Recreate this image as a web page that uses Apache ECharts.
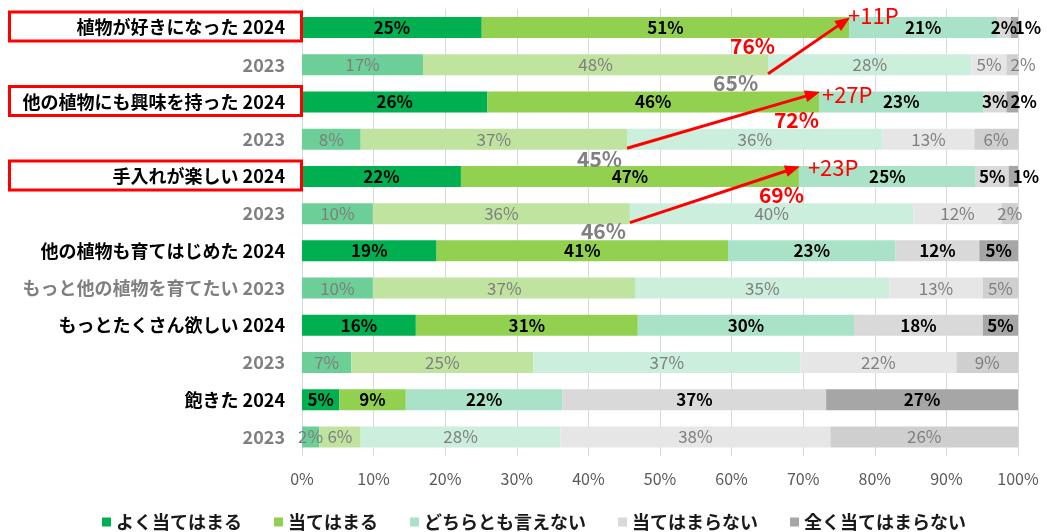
<!DOCTYPE html>
<html><head><meta charset="utf-8">
<script src="https://cdn.jsdelivr.net/npm/echarts@6/dist/echarts.min.js"></script>
<style>html,body{margin:0;padding:0;background:#fff}#c{width:1047px;height:532px}</style>
</head><body><div id="c"></div>
<script>
// ---- data ----
const itemNames = ['植物が好きになった','','他の植物にも興味を持った','','手入れが楽しい','','他の植物も育てはじめた','もっと他の植物を育てたい','もっとたくさん欲しい','','飽きた',''];
const years = ['2024','2023','2024','2023','2024','2023','2024','2023','2024','2023','2024','2023'];
const seriesNames = ['よく当てはまる','当てはまる','どちらとも言えない','当てはまらない','全く当てはまらない'];
const veryTrue     = [25.1,16.9,25.9, 8.2,22.2, 9.9,18.8, 9.9,15.9, 6.9, 5.2, 2.4];
const somewhatTrue = [51.3,48.2,46.3,37.2,47.2,35.9,40.7,36.7,31.0,25.4, 9.3, 5.8];
const neutral      = [20.7,28.4,23.0,35.7,24.7,39.6,23.4,35.4,30.2,37.3,21.9,27.9];
const notTrue      = [ 1.9, 4.9, 3.2,12.8, 4.6,12.3,11.7,13.1,18.0,21.8,36.8,37.7];
const notAtAll     = [ 1.0, 1.6, 1.6, 6.1, 1.3, 2.3, 5.4, 4.9, 4.9, 8.6,26.8,26.2];
const xMin = 0, xMax = 100, xStep = 10;
// comparison annotations: [2024 row, 2023 row]
const comparePairs = [[0,1],[2,3],[4,5]];
const boxedRows = [0,2,4];

// ---- styles ----
const FONT = '"Noto Sans CJK JP", "Noto Sans", sans-serif';
const colors2024 = ['#00B050','#92D050','#A9E2C6','#D9D9D9','#A6A6A6'];
const colors2023 = ['#6CCF97','#C0E4A0','#CCEEDD','#E6E6E6','#CFCFCF'];
const RED = '#FF0000';
const leftLabelCells = {4:[0,1,2,4]}; // series index -> rows with left-placed label
const annLayout = [
  {diffDx:-1, diffDy:-11.5, totDx:-74, totDy:18.5, oldDx:-10, oldDy:18},
  {diffDx: 3, diffDy:-7.7,  totDx:  0, totDy:18,   oldDx:-5,  oldDy:20},
  {diffDx: 9, diffDy:-9.2,  totDx:  5, totDy:19,   oldDx:-4,  oldDy:17}
];

const categories = itemNames.map((n,i)=> (n ? n + ' ' : '') + years[i]);
const allSeries = [veryTrue, somewhatTrue, neutral, notTrue, notAtAll];

const chart = echarts.init(document.getElementById('c'), null, {renderer:'canvas'});

const series = allSeries.map((arr, si) => ({
  name: seriesNames[si],
  type: 'bar',
  stack: 'total',
  barWidth: 21,
  itemStyle: {color: colors2024[si]},
  label: {show: true, position: 'inside', fontSize: 17, fontFamily: FONT,
          formatter: p => Math.round(p.value) + '%'},
  data: arr.map((v, ri) => {
    const is23 = years[ri] === '2023';
    const d = {
      value: v,
      itemStyle: {color: is23 ? colors2023[si] : colors2024[si]},
      label: {color: is23 ? '#7F7F7F' : '#000000', fontWeight: is23 ? 'normal' : 'bold'}
    };
    if (leftLabelCells[si] && leftLabelCells[si].includes(ri)) {
      d.label.position = 'insideLeft';
      d.label.distance = 4;
    }
    return d;
  })
}));

chart.setOption({
  animation: false,
  textStyle: {fontFamily: FONT},
  grid: {left: 302, right: 29, top: 8.9, bottom: 76.4, containLabel: false},
  xAxis: {
    type: 'value', min: xMin, max: xMax, interval: xStep,
    axisLabel: {formatter: '{value}%', fontSize: 16, color: '#595959', margin: 15, fontFamily: FONT},
    axisLine: {show: false}, axisTick: {show: false},
    splitLine: {show: true, lineStyle: {color: '#D9D9D9', width: 1}}
  },
  yAxis: {
    type: 'category', inverse: true, data: categories,
    axisLine: {show: false}, axisTick: {show: false},
    axisLabel: {
      margin: 17,
      formatter: (val, idx) => (years[idx] === '2023' ? '{g|' : '{b|') + val + '}',
      rich: {
        b: {fontSize: 18, fontWeight: 'bold', color: '#000000', fontFamily: FONT},
        g: {fontSize: 18, fontWeight: 'bold', color: '#7F7F7F', fontFamily: FONT}
      }
    }
  },
  legend: {
    left: 97, top: 508, icon: 'rect', itemWidth: 9, itemHeight: 9, itemGap: 32,
    textStyle: {fontSize: 18, fontWeight: 'bold', color: '#1A1A1A', fontFamily: FONT},
    data: seriesNames
  },
  series: series
});

// ---- annotations ----
const graphics = [];
const px = (x, row) => chart.convertToPixel({gridIndex: 0}, [x, row]);

boxedRows.forEach(r => {
  const c = px(0, r);
  graphics.push({type: 'rect', shape: {x: 9.5, y: c[1] - 15.5, width: 292, height: 29},
    style: {fill: 'none', stroke: RED, lineWidth: 3}, z: 100});
});

comparePairs.forEach(([r24, r23], k) => {
  const lay = annLayout[k];
  const t24 = veryTrue[r24] + somewhatTrue[r24];
  const t23 = veryTrue[r23] + somewhatTrue[r23];
  const e = px(t24, r24), s = px(t23, r23);
  const S = [s[0], s[1] + 9], E = [e[0] + 1, e[1] - 10];
  const dx = E[0] - S[0], dy = E[1] - S[1], L = Math.hypot(dx, dy);
  const ux = dx / L, uy = dy / L, nx = -uy, ny = ux;
  const hl = 15, hw = 6;
  const B = [E[0] - ux * hl, E[1] - uy * hl];
  graphics.push({type: 'line', shape: {x1: S[0], y1: S[1], x2: B[0] + ux * 2, y2: B[1] + uy * 2},
    style: {stroke: RED, lineWidth: 3}, z: 100});
  graphics.push({type: 'polygon', shape: {points: [E, [B[0] + nx * hw, B[1] + ny * hw], [B[0] - nx * hw, B[1] - ny * hw]]},
    style: {fill: RED}, z: 100});
  const r24v = Math.round(t24), r23v = Math.round(t23);
  graphics.push({type: 'text', x: e[0] + lay.diffDx, y: e[1] + lay.diffDy, z: 101,
    style: {text: '+' + (r24v - r23v) + 'P', fill: RED, font: 'normal 22px ' + FONT, textAlign: 'left', textVerticalAlign: 'middle'}});
  graphics.push({type: 'text', x: e[0] + lay.totDx, y: e[1] + lay.totDy, z: 101,
    style: {text: r24v + '%', fill: RED, font: 'bold 21px ' + FONT, textAlign: 'right', textVerticalAlign: 'middle'}});
  graphics.push({type: 'text', x: s[0] + lay.oldDx, y: s[1] + lay.oldDy, z: 101,
    style: {text: r23v + '%', fill: '#808080', font: 'bold 21px ' + FONT, textAlign: 'right', textVerticalAlign: 'middle'}});
});

chart.setOption({graphic: graphics});
</script>
</body></html>
